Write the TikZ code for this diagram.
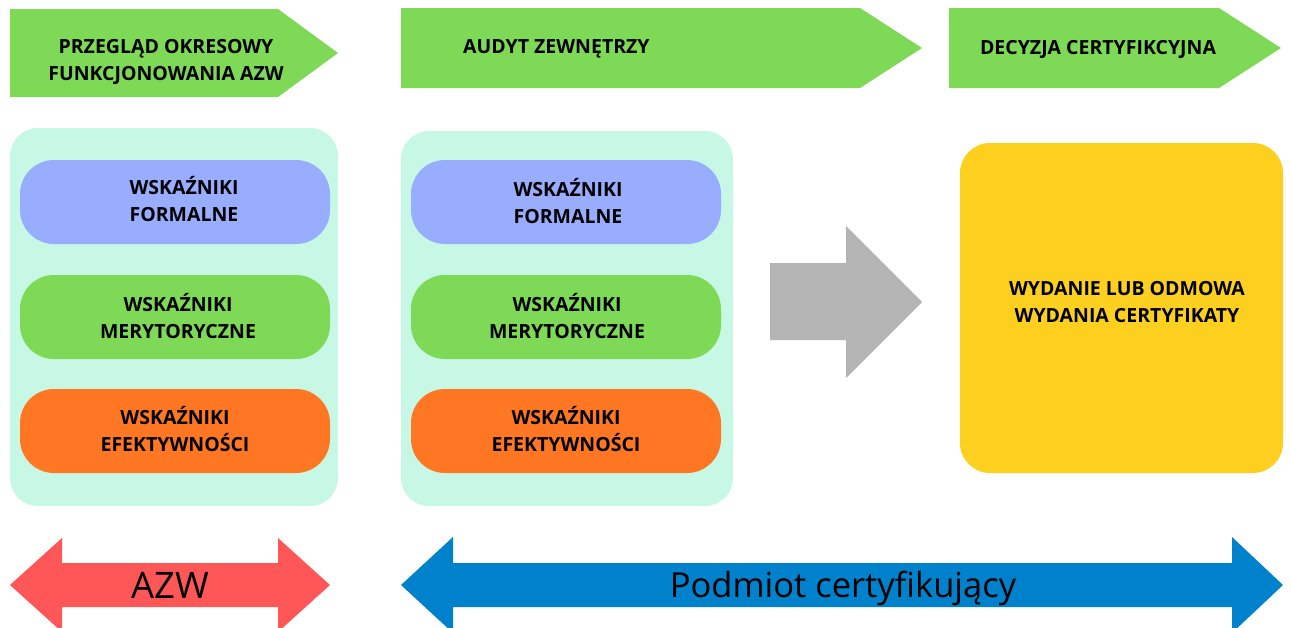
\documentclass[tikz,border=0pt]{standalone}
\usepackage{fontspec}
\setmainfont{Open Sans}
\definecolor{grn}{HTML}{7ED957}
\definecolor{panel}{HTML}{C7F8E6}
\definecolor{pblue}{HTML}{99ADFF}
\definecolor{porange}{HTML}{FF7722}
\definecolor{gry}{HTML}{B4B4B4}
\definecolor{yel}{HTML}{FDD020}
\definecolor{redarr}{HTML}{FF5757}
\definecolor{bluearr}{HTML}{0081CC}
\tikzset{
  lbl/.style={font=\bfseries\fontsize{19.5}{24}\selectfont, text=black, inner sep=0pt, anchor=base},
  big/.style={font=\fontsize{36.5}{44}\selectfont, text=black, inner sep=0pt, anchor=base},
  panelbox/.style={fill=panel, rounded corners=28pt},
  pill/.style={rounded corners=34pt},
}
% name, x, cap centre of first line, first line, second line
\newcommand\twoline[5]{%
  \node[lbl] (#1a) at (#2,#3+7) {#4};
  \node[lbl] (#1b) at (#2,#3+34) {#5};}
\begin{document}
\begin{tikzpicture}[x=1pt,y=-1pt]
\useasboundingbox (0,0) rectangle (1291,627);
\fill[white] (0,0) rectangle (1291,627);
\begin{scope}
\clip (0,0) rectangle (1291,627);
% top stage arrows
\fill[grn] (10,9) -- (278,9) -- (338,53) -- (278,97) -- (10,97) -- cycle;
\fill[grn] (401,8) -- (860,8) -- (922,48) -- (860,88) -- (401,88) -- cycle;
\fill[grn] (949,8) -- (1219,8) -- (1281,48) -- (1219,88) -- (949,88) -- cycle;
\twoline{h1}{166}{46.7}{PRZEGLĄD OKRESOWY}{FUNKCJONOWANIA AZW}
\node[lbl, anchor=base west] (h2) at (463,53) {AUDYT ZEWNĘTRZY};
\node[lbl] (h3) at (1098,54) {DECYZJA CERTYFIKCYJNA};
% panels
\fill[panelbox] (10,128) rectangle (338,506);
\fill[panelbox] (401,131) rectangle (733,506);
% pills, panel 1
\fill[pill, pblue] (20,160) rectangle (330,244);
\fill[pill, grn] (20,275) rectangle (330,359);
\fill[pill, porange] (20,389) rectangle (330,473);
\twoline{a1}{184}{187}{WSKAŹNIKI}{FORMALNE}
\twoline{a2}{178}{304}{WSKAŹNIKI}{MERYTORYCZNE}
\twoline{a3}{175}{417}{WSKAŹNIKI}{EFEKTYWNOŚCI}
% pills, panel 2
\fill[pill, pblue] (411,160) rectangle (721,244);
\fill[pill, grn] (411,275) rectangle (721,359);
\fill[pill, porange] (411,389) rectangle (721,473);
\twoline{b1}{568}{189}{WSKAŹNIKI}{FORMALNE}
\twoline{b2}{567}{304}{WSKAŹNIKI}{MERYTORYCZNE}
\twoline{b3}{566}{417}{WSKAŹNIKI}{EFEKTYWNOŚCI}
% grey arrow
\fill[gry] (770,263) -- (846,263) -- (846,226) -- (922,302) -- (846,378) -- (846,340) -- (770,340) -- cycle;
% yellow decision box
\fill[yel, rounded corners=30pt] (960,143) rectangle (1283,473);
\twoline{c}{1127}{288.5}{WYDANIE LUB ODMOWA}{WYDANIA CERTYFIKATY}
% bottom double arrows
\fill[redarr] (10,585) -- (62,538) -- (62,563) -- (278,563) -- (278,538) -- (330,585) -- (278,632) -- (278,607) -- (62,607) -- (62,632) -- cycle;
\fill[bluearr] (401,585) -- (453,537) -- (453,563) -- (1232,563) -- (1232,537) -- (1283,585) -- (1232,633) -- (1232,607) -- (453,607) -- (453,633) -- cycle;
\node[big] (azw) at (170,598) {AZW};
\node[big, font=\fontsize{34.5}{40}\selectfont] (pc) at (843,597) {Podmiot certyfikujący};
\end{scope}
\end{tikzpicture}
\end{document}
